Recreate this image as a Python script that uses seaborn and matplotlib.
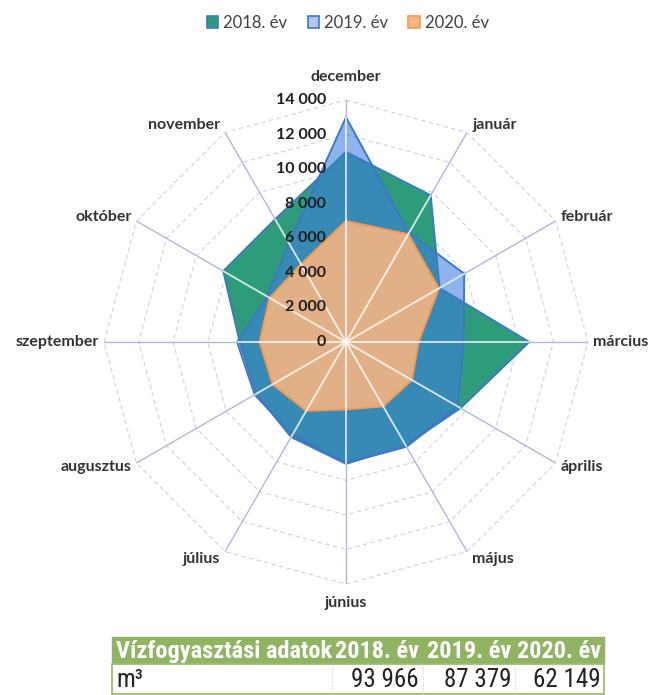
import numpy as np
import pandas as pd
import matplotlib
matplotlib.use("Agg")
import matplotlib.pyplot as plt
import seaborn as sns
from matplotlib.patches import Patch, Rectangle
from matplotlib import font_manager as fm

# ---------------- data ----------------
months = ["december", "január", "február", "március", "április", "május",
          "június", "július", "augusztus", "szeptember", "október", "november"]
years = ["2018. év", "2019. év", "2020. év"]
v2018 = [11000, 9800, 6250, 10600, 7650, 6900, 7050, 6350, 6000, 6150, 8200, 8200]
v2019 = [13000, 7300, 7900, 6800, 7450, 7000, 7000, 6200, 6100, 6300, 5250, 6600]
v2020 = [7000, 7200, 6200, 4200, 4400, 4300, 3900, 4600, 4900, 5000, 5100, 5200]
radial_ticks = [0, 2000, 4000, 6000, 8000, 10000, 12000, 14000]
table_title = "Vízfogyasztási adatok"
table_unit = "m³"
totals = [93966, 87379, 62149]

# ---------------- style ----------------
sns.set_theme(style="white")
plt.rcParams["font.family"] = ["Lato", "DejaVu Sans"]

fill_cols = ["#2E9C7A", (60 / 255, 125 / 255, 225 / 255), "#F6B582"]
fill_alpha = [1.0, 0.58, 0.9]
line_cols = ["#3A7CC4", "#3C78C8", "#F39B4F"]
legend_face = ["#2E9C7A", "#B4C4EA", "#F6B582"]

W, H = 651, 695
cx, cy, R = 346, 342, 242
fig = plt.figure(figsize=(W / 100, H / 100), dpi=100)
fig.patch.set_facecolor("white")

ax = fig.add_axes([(cx - R) / W, (H - cy - R) / H, 2 * R / W, 2 * R / H],
                  projection="polar")
ax.set_theta_zero_location("N")
ax.set_theta_direction(-1)
ax.grid(False)
ax.spines["polar"].set_visible(False)
ax.set_facecolor("none")

n = len(months)
theta = np.linspace(0, 2 * np.pi, n, endpoint=False)
tc = np.append(theta, theta[0])


def closed(v):
    return np.append(np.asarray(v, dtype=float), v[0])


rmax = radial_ticks[-1]
# polygon grid rings
for lvl in radial_ticks[1:]:
    ax.plot(tc, [lvl] * (n + 1), color="#CFCFF0", lw=0.8,
            ls=(0, (4, 3)), zorder=1)
# spokes
for t in theta:
    ax.plot([t, t], [0, rmax], color="#B4B4E4", lw=1.0, zorder=1.2)

series = [v2018, v2019, v2020]
for i, v in enumerate(series):
    ax.fill(tc, closed(v), color=fill_cols[i], alpha=fill_alpha[i],
            lw=0, zorder=2 + i)
    df = pd.DataFrame({"theta": tc, "value": closed(v)})
    sns.lineplot(data=df, x="theta", y="value", sort=False, estimator=None,
                 ax=ax, color=line_cols[i], lw=1.4, zorder=5 + i * 0.1,
                 legend=False)

# light spokes over filled areas
maxvals = np.max(np.array(series), axis=0)
for t, m in zip(theta, maxvals):
    ax.plot([t, t], [0, m], color="white", alpha=0.8, lw=1.3, zorder=6)

ax.set_xlabel("")
ax.set_ylabel("")
ax.set_xticks([])
ax.set_yticks([])
ax.set_ylim(0, rmax)

# radial tick labels
for lvl in radial_ticks:
    ax.annotate(f"{lvl:,}".replace(",", " "), xy=(0, lvl), xytext=(-20, 0),
                textcoords="offset pixels", ha="right", va="center",
                fontsize=11.5, fontweight="bold", color="#1F1F1F", zorder=8,
                annotation_clip=False)

# month labels
for t, m in zip(theta, months):
    s, c = np.sin(t), np.cos(t)
    if abs(s) < 0.01:
        ha, dx, dy = "center", 0, (23 if c > 0 else -19)
    else:
        ha = "left" if s > 0 else "right"
        dx, dy = 5 * np.sign(s), 8 * c
    ax.annotate(m, xy=(t, rmax), xytext=(dx, dy), textcoords="offset pixels",
                ha=ha, va="center", fontsize=11.5, fontweight="bold",
                color="#333333", annotation_clip=False, zorder=8)

# legend
handles = [Patch(facecolor=legend_face[i], edgecolor=line_cols[i], lw=1.2)
           for i in range(3)]
fig.legend(handles, years, loc="center", bbox_to_anchor=(348 / W, 1 - 23 / H),
           ncol=3, frameon=False, fontsize=12, handlelength=0.7,
           handleheight=0.7, handletextpad=0.3, columnspacing=1.2,
           labelcolor="#404040")

# ---------------- table ----------------
tfam = None
names = {f.name for f in fm.fontManager.ttflist}
for cand in ["Liberation Sans Narrow", "Arial Narrow", "Roboto Condensed",
             "Open Sans Condensed", "DejaVu Sans Condensed"]:
    if cand in names:
        tfam = [cand, "DejaVu Sans"]
        hsize, vsize = 17.5, 18
        break
if tfam is None:
    tfam = ["Liberation Sans", "DejaVu Sans"]
    hsize, vsize = 14.5, 16

tax = fig.add_axes([0, 0, 1, 1], zorder=-1)
tax.set_xlim(0, W)
tax.set_ylim(H, 0)
tax.axis("off")

x0, x1 = 112, 604
col_div = [332, 423, 515]
col_right = [419, 511, 601]
hy0, hy1, ry1 = 637, 664, 694
tax.add_patch(Rectangle((x0, hy0), x1 - x0, hy1 - hy0, facecolor="#8FB462",
                        edgecolor="#8FB462", lw=1))
tax.add_patch(Rectangle((x0, hy1), x1 - x0, ry1 - hy1, facecolor="white",
                        edgecolor="#9DBF6A", lw=1.3))
for xd in col_div:
    tax.plot([xd, xd], [hy1, ry1], color="#C9D9B2", lw=0.8, ls=":")

tax.text(x0 + 4, (hy0 + hy1) / 2 + 1, table_title, ha="left", va="center",
         color="white", fontsize=hsize, fontweight="bold", family=tfam)
for xr, y in zip(col_right, years):
    tax.text(xr, (hy0 + hy1) / 2 + 1, y, ha="right", va="center",
             color="white", fontsize=hsize, fontweight="bold", family=tfam)
tax.text(x0 + 4, (hy1 + ry1) / 2 + 1, table_unit, ha="left", va="center",
         color="#222222", fontsize=vsize, family=tfam)
for xr, v in zip(col_right, totals):
    tax.text(xr, (hy1 + ry1) / 2 + 1, f"{v:,}".replace(",", " "), ha="right",
             va="center", color="#222222", fontsize=vsize, family=tfam)

fig.savefig("out.png", dpi=100, facecolor="white")
